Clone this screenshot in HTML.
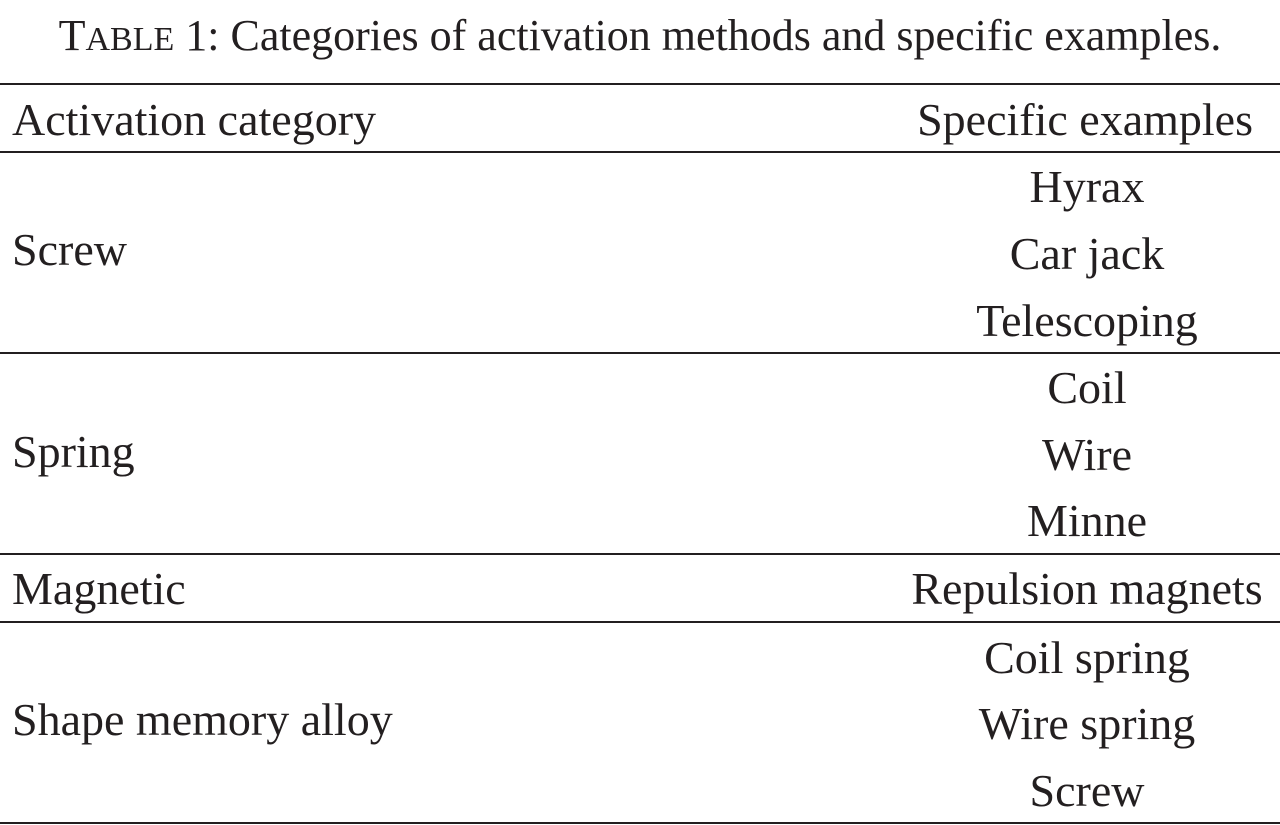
<!DOCTYPE html>
<html><head><style>
body{margin:0;width:1280px;height:825px;background:#fff;overflow:hidden;position:relative;font-family:"Liberation Serif",serif;color:#231f20}
.t{position:absolute;font-size:46px;line-height:60px;white-space:nowrap}
.l{left:12px}
.r{left:887px;width:400px;text-align:center}
.h{position:absolute;left:0;width:1280px;height:2px;background:#231f20}
</style></head><body>
<div class="t" style="left:0;width:1280px;text-align:center;top:6px;font-size:44px">T<span style="font-size:34px">ABLE</span> 1: Categories of activation methods and specific examples.</div>
<div class="h" style="top:83px"></div>
<div class="t l" style="top:90px">Activation category</div>
<div class="t" style="top:90px;right:27px">Specific examples</div>
<div class="h" style="top:151px"></div>
<div class="t l" style="top:220px">Screw</div>
<div class="t r" style="top:157px">Hyrax</div>
<div class="t r" style="top:224px">Car jack</div>
<div class="t r" style="top:291px">Telescoping</div>
<div class="h" style="top:352px"></div>
<div class="t l" style="top:422px">Spring</div>
<div class="t r" style="top:358px">Coil</div>
<div class="t r" style="top:425px">Wire</div>
<div class="t r" style="top:491px">Minne</div>
<div class="h" style="top:553px"></div>
<div class="t l" style="top:559px">Magnetic</div>
<div class="t r" style="top:559px">Repulsion magnets</div>
<div class="h" style="top:621px"></div>
<div class="t l" style="top:690px">Shape memory alloy</div>
<div class="t r" style="top:628px">Coil spring</div>
<div class="t r" style="top:694px">Wire spring</div>
<div class="t r" style="top:761px">Screw</div>
<div class="h" style="top:822px"></div>
</body></html>
